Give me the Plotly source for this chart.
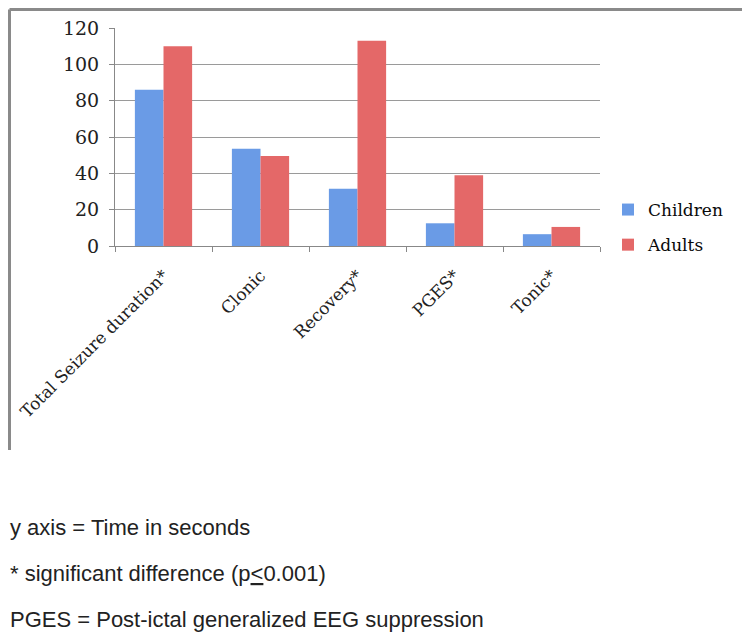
import plotly.graph_objects as go

categories = ["Total Seizure duration*", "Clonic", "Recovery*", "PGES*", "Tonic*"]
children = [86, 53.5, 31.5, 12.5, 6.5]
adults = [110, 49.5, 113, 39, 10.5]
y_ticks = [0, 20, 40, 60, 80, 100, 120]
notes = ["y axis = Time in seconds",
         "* significant difference (p<u>&lt;</u>0.001)",
         "PGES = Post-ictal generalized EEG suppression"]

# the page places the figure 8px in from the top-left corner
OFF = 8
W, H = 750 - OFF, 636 - OFF
L, R, T, B = 115 - OFF, 150, 28 - OFF, 390
pw, ph = W - L - R, H - T - B

def px(x):  # screenshot pixel -> paper
    return (x - OFF - L) / pw

def py(y):
    return (H - B - (y - OFF)) / ph

serif = "DejaVu Serif"

fig = go.Figure()
fig.add_trace(go.Bar(name="Children", x=categories, y=children, legendgroup="c",
                     marker=dict(color="#6a9be6", line=dict(width=0))))
fig.add_trace(go.Bar(name="Adults", x=categories, y=adults, legendgroup="a",
                     marker=dict(color="#e46868", line=dict(width=0))))

fig.update_layout(
    width=W, height=H,
    margin=dict(l=L, r=R, t=T, b=B, autoexpand=False),
    paper_bgcolor="white", plot_bgcolor="white",
    barmode="group", bargap=0.41, bargroupgap=0,
    font=dict(family=serif, color="#222"),
    legend=dict(x=px(608), y=py(192), xref="paper", yref="paper",
                xanchor="left", yanchor="top",
                font=dict(family=serif, size=17, color="#0a0a0a"),
                itemwidth=30, tracegroupgap=10, traceorder="grouped",
                bgcolor="rgba(0,0,0,0)"),
    xaxis=dict(showline=True, linecolor="#888", linewidth=1,
               tickangle=-45, tickson="boundaries", ticks="outside",
               ticklen=5, tickcolor="#888", automargin=False,
               ticklabelstandoff=12,
               tickfont=dict(family=serif, size=17, color="#222")),
    yaxis=dict(range=[0, 120], tickvals=y_ticks, showline=True,
               linecolor="#888", linewidth=1, ticks="outside", ticklen=5,
               tickcolor="#888", showgrid=True, gridcolor="#9a9a9a",
               gridwidth=1, zeroline=False, automargin=False,
               ticklabelstandoff=6,
               tickfont=dict(family=serif, size=19, color="#222")),
)

# chart border (left, top, right)
bx0, bx1, by0, by1 = px(9.5), px(744), py(450), py(9.5)
for (x0, y0, x1, y1) in [(bx0, by0, bx0, by1), (bx0, by1, bx1, by1), (bx1, by1, bx1, by0)]:
    fig.add_shape(type="line", xref="paper", yref="paper", x0=x0, y0=y0, x1=x1, y1=y1,
                  line=dict(color="#8a8a8a", width=3))

for txt, yy in zip(notes, [527, 573, 620]):
    fig.add_annotation(text=txt, xref="paper", yref="paper", x=px(OFF), y=py(yy),
                       xanchor="left", yanchor="middle", showarrow=False,
                       font=dict(family="Liberation Sans", size=22, color="#222"))

fig.write_html("out.html")
